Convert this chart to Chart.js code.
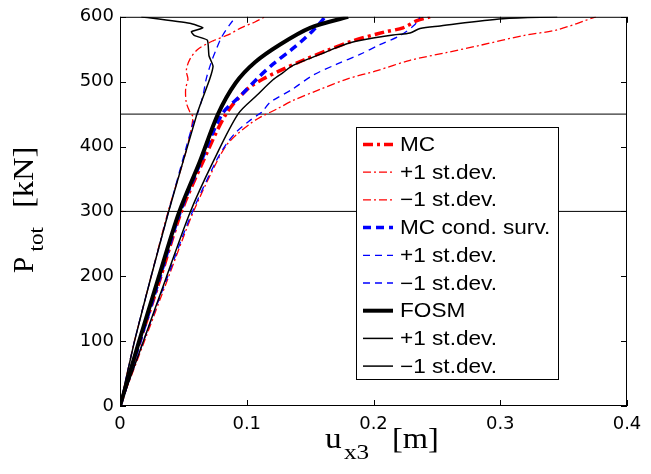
<!DOCTYPE html>
<html>
<head>
<meta charset="utf-8">
<script src="https://cdn.jsdelivr.net/npm/chart.js@4.4.1/dist/chart.umd.min.js"></script>
<style>
  html, body { margin: 0; padding: 0; background: #fff; }
  canvas { display: block; }
</style>
</head>
<body>
<canvas id="c" width="651" height="474"></canvas>
<script>
// ---- data (u in m, P in kN) ----
const xTicks = [0, 0.1, 0.2, 0.3, 0.4];
const yTicks = [0, 100, 200, 300, 400, 500, 600];
const refLoads = [300, 450];

const mcU  = [0, 0.0155, 0.0318, 0.0481, 0.0655, 0.0836, 0.1002, 0.1128, 0.1262, 0.1444, 0.1633, 0.1838, 0.2075, 0.2233, 0.2343, 0.2446];
const mcP  = [0, 98, 197, 298, 377, 450, 488, 504, 517, 533, 548, 563, 576, 583, 594, 600];

const mcPlusU = [0, 0.0112, 0.0242, 0.0377, 0.052, 0.0576, 0.0552, 0.0523, 0.0518, 0.0536, 0.0523, 0.055, 0.0615, 0.0734, 0.0852, 0.0955, 0.1065, 0.1144];
const mcPlusP = [0, 98, 197, 298, 392, 445, 453, 468, 489, 504, 517, 534, 550, 563, 572, 583, 592, 600];

const mcMinusU = [0, 0.0189, 0.0379, 0.0576, 0.0765, 0.0844, 0.0923, 0.1026, 0.1105, 0.1239, 0.1365, 0.1578, 0.179, 0.2028, 0.2288, 0.258, 0.284, 0.318, 0.345, 0.3755];
const mcMinusP = [0, 98, 197, 298, 377, 403, 419, 435, 445, 458, 471, 488, 504, 517, 533, 545, 556, 571, 580, 600];

const csU  = [0, 0.0155, 0.0312, 0.0473, 0.0639, 0.0805, 0.0955, 0.110, 0.1207, 0.1357, 0.1436, 0.1523, 0.1594, 0.1617];
const csP  = [0, 98, 197, 298, 377, 450, 479, 508, 527, 550, 563, 579, 594, 600];

const csPlusU = [0, 0.0112, 0.0242, 0.0381, 0.0584, 0.0615, 0.0655, 0.068, 0.072, 0.076, 0.080, 0.0866, 0.0915];
const csPlusP = [0, 98, 197, 298, 441, 453, 479, 504, 530, 550, 568, 588, 600];

const csMinusU = [0, 0.0181, 0.0371, 0.0568, 0.0757, 0.0836, 0.0915, 0.101, 0.1089, 0.112, 0.1183, 0.1357, 0.1523, 0.171, 0.1893, 0.205, 0.2209, 0.2327, 0.2367];
const csMinusP = [0, 98, 197, 298, 377, 403, 422, 438, 449, 453, 468, 488, 510, 527, 542, 557, 571, 588, 600];

const fosmU = [0, 0.0148, 0.0303, 0.0465, 0.063, 0.0773, 0.0912, 0.1065, 0.126, 0.150, 0.180];
const fosmP = [0, 98, 197, 298, 377, 450, 498, 530, 557, 583, 600];

const fosmPlusU = [0, 0.0112, 0.0242, 0.0381, 0.0607, 0.0655, 0.0708, 0.0734, 0.0702, 0.0689, 0.0589, 0.0563, 0.0655, 0.0550, 0.0168];
const fosmPlusP = [0, 98, 197, 298, 450, 476, 504, 524, 540, 564, 571, 577, 583, 590, 600];

const fosmMinusU = [0, 0.0181, 0.0363, 0.0552, 0.0736, 0.0931, 0.108, 0.1207, 0.1286, 0.1365, 0.1578, 0.1815, 0.2154, 0.2288, 0.2367, 0.2525, 0.302, 0.345];
const fosmMinusP = [0, 98, 197, 298, 377, 450, 479, 503, 514, 525, 542, 560, 572, 575, 582, 586, 597, 600];

const legendLabels = ['MC', '+1 st.dev.', '\u22121 st.dev.', 'MC cond. surv.', '+1 st.dev.', '\u22121 st.dev.', 'FOSM', '+1 st.dev.', '\u22121 st.dev.'];

// ---- styles ----
const RED = '#ff0000', BLUE = '#0000ff', BLACK = '#000000';
const styles = [
  { c: RED,   w: 3.5, d: [10, 4, 3, 4], t: 0.3 },
  { c: RED,   w: 1.3, d: [8, 3, 2, 3],  t: 0.3 },
  { c: RED,   w: 1.3, d: [8, 3, 2, 3],  t: 0.3 },
  { c: BLUE,  w: 3.5, d: [8, 5],        t: 0.3 },
  { c: BLUE,  w: 1.3, d: [7, 5],        t: 0.3 },
  { c: BLUE,  w: 1.3, d: [7, 5],        t: 0.3 },
  { c: BLACK, w: 4,   d: [],            t: 0.3 },
  { c: BLACK, w: 1.5, d: [],            t: 0.15 },
  { c: BLACK, w: 1.5, d: [],            t: 0.3 }
];
const seriesU = [mcU, mcPlusU, mcMinusU, csU, csPlusU, csMinusU, fosmU, fosmPlusU, fosmMinusU];
const seriesP = [mcP, mcPlusP, mcMinusP, csP, csPlusP, csMinusP, fosmP, fosmPlusP, fosmMinusP];

const zip = (u, p) => u.map((v, i) => ({ x: v, y: p[i] }));

const datasets = [];
refLoads.forEach((load) => {
  datasets.push({
    label: 'ref ' + load,
    data: [{ x: xTicks[0], y: load }, { x: xTicks[xTicks.length - 1], y: load }],
    borderColor: BLACK, borderWidth: 1, showLine: true, pointRadius: 0, order: 100
  });
});
seriesU.forEach((u, i) => {
  datasets.push({
    label: legendLabels[i],
    data: zip(u, seriesP[i]),
    borderColor: styles[i].c,
    borderWidth: styles[i].w,
    borderDash: styles[i].d,
    showLine: true, pointRadius: 0, tension: styles[i].t,
    borderCapStyle: 'butt', borderJoinStyle: 'round',
    order: 50 - i
  });
});

function stretchText(ctx, s, x, y, font, sx) {
  ctx.save();
  ctx.translate(x, y);
  ctx.scale(sx, 1);
  ctx.font = font;
  ctx.fillText(s, 0, 0);
  ctx.restore();
}

const decor = {
  id: 'decor',
  afterDraw(chart) {
    const ctx = chart.ctx;
    const a = chart.chartArea;
    const xs = chart.scales.x, ys = chart.scales.y;
    ctx.save();
    // box
    ctx.strokeStyle = BLACK;
    ctx.lineWidth = 1;
    ctx.setLineDash([]);
    ctx.strokeRect(a.left + 0.5, a.top + 0.5, a.right - a.left - 1, a.bottom - a.top - 1);
    // inward ticks on all sides
    ctx.beginPath();
    xTicks.forEach(v => {
      const px = Math.round(xs.getPixelForValue(v)) + 0.5;
      ctx.moveTo(px, a.bottom); ctx.lineTo(px, a.bottom - 6);
      ctx.moveTo(px, a.top); ctx.lineTo(px, a.top + 6);
    });
    yTicks.forEach(v => {
      const py = Math.round(ys.getPixelForValue(v)) + 0.5;
      ctx.moveTo(a.left, py); ctx.lineTo(a.left + 6, py);
      ctx.moveTo(a.right, py); ctx.lineTo(a.right - 6, py);
    });
    ctx.stroke();

    // legend
    const lx0 = 356, ly0 = 127, lx1 = 558, ly1 = 379;
    ctx.fillStyle = '#fff';
    ctx.fillRect(lx0, ly0, lx1 - lx0, ly1 - ly0);
    ctx.strokeStyle = BLACK;
    ctx.lineWidth = 1;
    ctx.strokeRect(lx0 + 0.5, ly0 + 0.5, lx1 - lx0, ly1 - ly0);
    ctx.fillStyle = BLACK;
    ctx.textBaseline = 'middle';
    ctx.textAlign = 'left';
    legendLabels.forEach((lab, i) => {
      const cy = 144.5 + 27.7 * i;
      ctx.beginPath();
      ctx.strokeStyle = styles[i].c;
      ctx.lineWidth = styles[i].w;
      ctx.setLineDash(styles[i].d);
      ctx.lineCap = 'butt';
      ctx.moveTo(363, cy); ctx.lineTo(393, cy);
      ctx.stroke();
      ctx.setLineDash([]);
      stretchText(ctx, lab, 400, cy + 1, '20px "Liberation Sans"', 1.13);
    });

    // y title  P_tot [kN]
    ctx.fillStyle = BLACK;
    ctx.textBaseline = 'alphabetic';
    ctx.save();
    ctx.translate(33, 273);
    ctx.rotate(-Math.PI / 2);
    stretchText(ctx, 'P', 0, 0, '29px "Liberation Serif"', 1.0);
    stretchText(ctx, 'tot', 21.5, 10, '21px "Liberation Serif"', 1.1);
    stretchText(ctx, '[kN]', 65, 0, '29px "Liberation Serif"', 1.12);
    ctx.restore();

    // x title  u_x3 [m]
    stretchText(ctx, 'u', 325, 448, '29px "Liberation Serif"', 1.15);
    stretchText(ctx, 'x3', 344, 459, '21px "Liberation Serif"', 1.2);
    stretchText(ctx, '[m]', 392, 448, '29px "Liberation Serif"', 1.12);
    ctx.restore();
  }
};

Chart.defaults.font.family = '"DejaVu Sans"';
Chart.defaults.font.size = 18;
Chart.defaults.color = '#000';

new Chart(document.getElementById('c'), {
  type: 'scatter',
  data: { datasets },
  options: {
    responsive: false,
    animation: false,
    devicePixelRatio: 1,
    layout: { padding: { left: 0, top: 14, right: 24, bottom: 0 } },
    plugins: { legend: { display: false }, tooltip: { enabled: false } },
    scales: {
      x: {
        type: 'linear', min: xTicks[0], max: xTicks[xTicks.length - 1],
        grid: { display: false, drawTicks: false },
        border: { display: false },
        ticks: { stepSize: 0.1, padding: 8, maxRotation: 0,
                 callback: v => String(Math.round(v * 10) / 10) },
        afterFit: s => { s.height = 68; }
      },
      y: {
        type: 'linear', min: yTicks[0], max: yTicks[yTicks.length - 1],
        grid: { display: false, drawTicks: false },
        border: { display: false },
        ticks: { stepSize: 100, padding: 6 },
        afterFit: s => { s.width = 120; }
      }
    }
  },
  plugins: [decor]
});
</script>
</body>
</html>
